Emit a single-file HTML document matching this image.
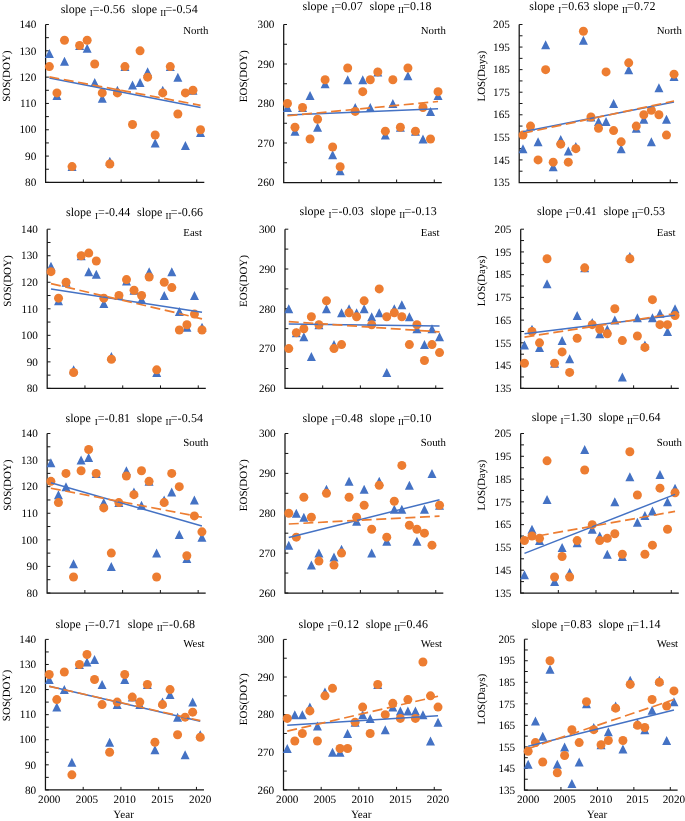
<!DOCTYPE html><html><head><meta charset="utf-8"><style>html,body{margin:0;padding:0;background:#fff;}svg{display:block;font-family:"Liberation Serif",serif;text-rendering:geometricPrecision;will-change:transform;}text{white-space:pre;}</style></head><body>
<svg width="685" height="821" viewBox="0 0 685 821">
<rect width="685" height="821" fill="#fff"/>
<g><text x="36.3" y="186.1" font-size="11.2" text-anchor="end">80</text><text x="36.3" y="159.78" font-size="11.2" text-anchor="end">90</text><text x="36.3" y="133.47" font-size="11.2" text-anchor="end">100</text><text x="36.3" y="107.15" font-size="11.2" text-anchor="end">110</text><text x="36.3" y="80.83" font-size="11.2" text-anchor="end">120</text><text x="36.3" y="54.52" font-size="11.2" text-anchor="end">130</text><text x="36.3" y="28.2" font-size="11.2" text-anchor="end">140</text><text transform="translate(10.3 76.2) rotate(-90)" font-size="11.0" text-anchor="middle">SOS(DOY)</text><text x="183.3" y="33.9" font-size="10.8">North</text><text x="60.7" y="12.9" font-size="12.0">slope</text><text x="89.66" y="16" font-size="9.0">I</text><text x="92.65" y="12.9" font-size="12.0" textLength="32.25" lengthAdjust="spacing">=-0.56</text><text x="131.7" y="12.9" font-size="12.0">slope</text><text x="160.25" y="16" font-size="9.0">II</text><text x="165.45" y="12.9" font-size="12.0" textLength="32.25" lengthAdjust="spacing">=-0.54</text><path d="M45.6 24.5V182.4H204.3" fill="none" stroke="#141414" stroke-width="1.25"/><path d="M45.6 182.4h3.3M45.6 169.24h3.3M45.6 156.08h3.3M45.6 142.93h3.3M45.6 129.77h3.3M45.6 116.61h3.3M45.6 103.45h3.3M45.6 90.29h3.3M45.6 77.13h3.3M45.6 63.98h3.3M45.6 50.82h3.3M45.6 37.66h3.3M45.6 24.5h3.3M83.39 182.4v-3M121.17 182.4v-3M158.96 182.4v-3M196.74 182.4v-3" fill="none" stroke="#141414" stroke-width="1"/><path d="M49.38 48.95L53.88 57.95L44.88 57.95ZM56.94 91.06L61.44 100.06L52.44 100.06ZM64.49 56.84L68.99 65.84L59.99 65.84ZM72.05 162.11L76.55 171.11L67.55 171.11ZM79.61 41.05L84.11 50.05L75.11 50.05ZM87.16 43.69L91.66 52.69L82.66 52.69ZM94.72 77.9L99.22 86.9L90.22 86.9ZM102.28 93.69L106.78 102.69L97.78 102.69ZM109.84 156.85L114.34 165.85L105.34 165.85ZM117.39 85.79L121.89 94.79L112.89 94.79ZM124.95 62.11L129.45 71.11L120.45 71.11ZM132.51 80.53L137.01 89.53L128.01 89.53ZM140.06 77.9L144.56 86.9L135.56 86.9ZM147.62 67.37L152.12 76.37L143.12 76.37ZM155.18 138.43L159.68 147.43L150.68 147.43ZM162.74 85.79L167.24 94.79L158.24 94.79ZM170.29 62.11L174.79 71.11L165.79 71.11ZM177.85 72.63L182.35 81.63L173.35 81.63ZM185.41 141.06L189.91 150.06L180.91 150.06ZM192.96 85.79L197.46 94.79L188.46 94.79ZM200.52 127.9L205.02 136.9L196.02 136.9Z" fill="#4472C4"/><circle cx="49.38" cy="66.61" r="4.5" fill="#ED7D31"/><circle cx="56.94" cy="92.92" r="4.5" fill="#ED7D31"/><circle cx="64.49" cy="40.29" r="4.5" fill="#ED7D31"/><circle cx="72.05" cy="166.61" r="4.5" fill="#ED7D31"/><circle cx="79.61" cy="45.55" r="4.5" fill="#ED7D31"/><circle cx="87.16" cy="40.29" r="4.5" fill="#ED7D31"/><circle cx="94.72" cy="63.98" r="4.5" fill="#ED7D31"/><circle cx="102.28" cy="92.92" r="4.5" fill="#ED7D31"/><circle cx="109.84" cy="163.98" r="4.5" fill="#ED7D31"/><circle cx="117.39" cy="92.92" r="4.5" fill="#ED7D31"/><circle cx="124.95" cy="66.61" r="4.5" fill="#ED7D31"/><circle cx="132.51" cy="124.5" r="4.5" fill="#ED7D31"/><circle cx="140.06" cy="50.82" r="4.5" fill="#ED7D31"/><circle cx="147.62" cy="77.13" r="4.5" fill="#ED7D31"/><circle cx="155.18" cy="135.03" r="4.5" fill="#ED7D31"/><circle cx="162.74" cy="92.92" r="4.5" fill="#ED7D31"/><circle cx="170.29" cy="66.61" r="4.5" fill="#ED7D31"/><circle cx="177.85" cy="113.98" r="4.5" fill="#ED7D31"/><circle cx="185.41" cy="92.92" r="4.5" fill="#ED7D31"/><circle cx="192.96" cy="90.29" r="4.5" fill="#ED7D31"/><circle cx="200.52" cy="129.77" r="4.5" fill="#ED7D31"/><line x1="49.38" y1="77.92" x2="200.52" y2="107.4" stroke="#4472C4" stroke-width="1.5"/><line x1="49.38" y1="76.87" x2="200.52" y2="105.29" stroke="#ED7D31" stroke-width="1.7" stroke-dasharray="10 4.6"/></g>
<g><text x="274.4" y="186.2" font-size="11.2" text-anchor="end">260</text><text x="274.4" y="146.7" font-size="11.2" text-anchor="end">270</text><text x="274.4" y="107.2" font-size="11.2" text-anchor="end">280</text><text x="274.4" y="67.7" font-size="11.2" text-anchor="end">290</text><text x="274.4" y="28.2" font-size="11.2" text-anchor="end">300</text><text transform="translate(247.3 76.2) rotate(-90)" font-size="11.0" text-anchor="middle">EOS(DOY)</text><text x="420.8" y="33.9" font-size="10.8">North</text><text x="302.6" y="9.9" font-size="12.0">slope</text><text x="331.46" y="13" font-size="9.0">I</text><text x="334.45" y="9.9" font-size="12.0" textLength="28.27" lengthAdjust="spacing">=0.07</text><text x="369.49" y="9.9" font-size="12.0">slope</text><text x="397.95" y="13" font-size="9.0">II</text><text x="403.13" y="9.9" font-size="12.0" textLength="28.27" lengthAdjust="spacing">=0.18</text><path d="M283.7 24.5V182.5H441.8" fill="none" stroke="#141414" stroke-width="1.25"/><path d="M283.7 182.5h3.3M283.7 162.75h3.3M283.7 143h3.3M283.7 123.25h3.3M283.7 103.5h3.3M283.7 83.75h3.3M283.7 64h3.3M283.7 44.25h3.3M283.7 24.5h3.3M321.34 182.5v-3M358.99 182.5v-3M396.63 182.5v-3M434.27 182.5v-3" fill="none" stroke="#141414" stroke-width="1"/><path d="M287.46 102.95L291.96 111.95L282.96 111.95ZM294.99 126.65L299.49 135.65L290.49 135.65ZM302.52 102.95L307.02 111.95L298.02 111.95ZM310.05 91.1L314.55 100.1L305.55 100.1ZM317.58 122.7L322.08 131.7L313.08 131.7ZM325.11 79.25L329.61 88.25L320.61 88.25ZM332.64 150.35L337.14 159.35L328.14 159.35ZM340.16 166.15L344.66 175.15L335.66 175.15ZM347.69 75.3L352.19 84.3L343.19 84.3ZM355.22 102.95L359.72 111.95L350.72 111.95ZM362.75 75.3L367.25 84.3L358.25 84.3ZM370.28 102.95L374.78 111.95L365.78 111.95ZM377.81 67.4L382.31 76.4L373.31 76.4ZM385.34 130.6L389.84 139.6L380.84 139.6ZM392.86 99L397.36 108L388.36 108ZM400.39 122.7L404.89 131.7L395.89 131.7ZM407.92 71.35L412.42 80.35L403.42 80.35ZM415.45 126.65L419.95 135.65L410.95 135.65ZM422.98 134.55L427.48 143.55L418.48 143.55ZM430.51 106.9L435.01 115.9L426.01 115.9ZM438.04 91.1L442.54 100.1L433.54 100.1Z" fill="#4472C4"/><circle cx="287.46" cy="103.5" r="4.5" fill="#ED7D31"/><circle cx="294.99" cy="127.2" r="4.5" fill="#ED7D31"/><circle cx="302.52" cy="107.45" r="4.5" fill="#ED7D31"/><circle cx="310.05" cy="139.05" r="4.5" fill="#ED7D31"/><circle cx="317.58" cy="119.3" r="4.5" fill="#ED7D31"/><circle cx="325.11" cy="79.8" r="4.5" fill="#ED7D31"/><circle cx="332.64" cy="146.95" r="4.5" fill="#ED7D31"/><circle cx="340.16" cy="166.7" r="4.5" fill="#ED7D31"/><circle cx="347.69" cy="67.95" r="4.5" fill="#ED7D31"/><circle cx="355.22" cy="111.4" r="4.5" fill="#ED7D31"/><circle cx="362.75" cy="91.65" r="4.5" fill="#ED7D31"/><circle cx="370.28" cy="79.8" r="4.5" fill="#ED7D31"/><circle cx="377.81" cy="71.9" r="4.5" fill="#ED7D31"/><circle cx="385.34" cy="131.15" r="4.5" fill="#ED7D31"/><circle cx="392.86" cy="79.8" r="4.5" fill="#ED7D31"/><circle cx="400.39" cy="127.2" r="4.5" fill="#ED7D31"/><circle cx="407.92" cy="67.95" r="4.5" fill="#ED7D31"/><circle cx="415.45" cy="131.15" r="4.5" fill="#ED7D31"/><circle cx="422.98" cy="107.45" r="4.5" fill="#ED7D31"/><circle cx="430.51" cy="139.05" r="4.5" fill="#ED7D31"/><circle cx="438.04" cy="91.65" r="4.5" fill="#ED7D31"/><line x1="287.46" y1="114.95" x2="438.04" y2="108.64" stroke="#4472C4" stroke-width="1.5"/><line x1="287.46" y1="115.75" x2="438.04" y2="101.52" stroke="#ED7D31" stroke-width="1.7" stroke-dasharray="10 4.6"/></g>
<g><text x="509.9" y="186.2" font-size="11.2" text-anchor="end">135</text><text x="509.9" y="163.63" font-size="11.2" text-anchor="end">145</text><text x="509.9" y="141.06" font-size="11.2" text-anchor="end">155</text><text x="509.9" y="118.49" font-size="11.2" text-anchor="end">165</text><text x="509.9" y="95.91" font-size="11.2" text-anchor="end">175</text><text x="509.9" y="73.34" font-size="11.2" text-anchor="end">185</text><text x="509.9" y="50.77" font-size="11.2" text-anchor="end">195</text><text x="509.9" y="28.2" font-size="11.2" text-anchor="end">205</text><text transform="translate(485.4 76.2) rotate(-90)" font-size="11.0" text-anchor="middle">LOS(Days)</text><text x="656.8" y="33.9" font-size="10.8">North</text><text x="529.3" y="10.2" font-size="12.0">slope</text><text x="558.23" y="13.3" font-size="9.0">I</text><text x="561.22" y="10.2" font-size="12.0" textLength="28.33" lengthAdjust="spacing">=0.63</text><text x="593.35" y="10.2" font-size="12.0">slope</text><text x="621.88" y="13.3" font-size="9.0">II</text><text x="627.07" y="10.2" font-size="12.0" textLength="28.33" lengthAdjust="spacing">=0.72</text><path d="M519.2 24.5V182.5H677.8" fill="none" stroke="#141414" stroke-width="1.25"/><path d="M519.2 182.5h3.3M519.2 171.21h3.3M519.2 159.93h3.3M519.2 148.64h3.3M519.2 137.36h3.3M519.2 126.07h3.3M519.2 114.79h3.3M519.2 103.5h3.3M519.2 92.21h3.3M519.2 80.93h3.3M519.2 69.64h3.3M519.2 58.36h3.3M519.2 47.07h3.3M519.2 35.79h3.3M519.2 24.5h3.3M556.96 182.5v-3M594.72 182.5v-3M632.49 182.5v-3M670.25 182.5v-3" fill="none" stroke="#141414" stroke-width="1"/><path d="M522.98 144.14L527.48 153.14L518.48 153.14ZM530.53 121.57L535.03 130.57L526.03 130.57ZM538.08 137.37L542.58 146.37L533.58 146.37ZM545.63 40.31L550.13 49.31L541.13 49.31ZM553.19 162.2L557.69 171.2L548.69 171.2ZM560.74 135.11L565.24 144.11L556.24 144.11ZM568.29 146.4L572.79 155.4L563.79 155.4ZM575.84 141.89L580.34 150.89L571.34 150.89ZM583.4 35.8L587.9 44.8L578.9 44.8ZM590.95 112.54L595.45 121.54L586.45 121.54ZM598.5 117.06L603 126.06L594 126.06ZM606.05 117.06L610.55 126.06L601.55 126.06ZM613.6 99L618.1 108L609.1 108ZM621.16 144.14L625.66 153.14L616.66 153.14ZM628.71 65.14L633.21 74.14L624.21 74.14ZM636.26 123.83L640.76 132.83L631.76 132.83ZM643.81 114.8L648.31 123.8L639.31 123.8ZM651.37 137.37L655.87 146.37L646.87 146.37ZM658.92 83.2L663.42 92.2L654.42 92.2ZM666.47 114.8L670.97 123.8L661.97 123.8ZM674.02 71.91L678.52 80.91L669.52 80.91Z" fill="#4472C4"/><circle cx="522.98" cy="135.1" r="4.5" fill="#ED7D31"/><circle cx="530.53" cy="126.07" r="4.5" fill="#ED7D31"/><circle cx="538.08" cy="159.93" r="4.5" fill="#ED7D31"/><circle cx="545.63" cy="69.64" r="4.5" fill="#ED7D31"/><circle cx="553.19" cy="162.19" r="4.5" fill="#ED7D31"/><circle cx="560.74" cy="144.13" r="4.5" fill="#ED7D31"/><circle cx="568.29" cy="162.19" r="4.5" fill="#ED7D31"/><circle cx="575.84" cy="148.64" r="4.5" fill="#ED7D31"/><circle cx="583.4" cy="31.27" r="4.5" fill="#ED7D31"/><circle cx="590.95" cy="117.04" r="4.5" fill="#ED7D31"/><circle cx="598.5" cy="128.33" r="4.5" fill="#ED7D31"/><circle cx="606.05" cy="71.9" r="4.5" fill="#ED7D31"/><circle cx="613.6" cy="130.59" r="4.5" fill="#ED7D31"/><circle cx="621.16" cy="141.87" r="4.5" fill="#ED7D31"/><circle cx="628.71" cy="62.87" r="4.5" fill="#ED7D31"/><circle cx="636.26" cy="126.07" r="4.5" fill="#ED7D31"/><circle cx="643.81" cy="114.79" r="4.5" fill="#ED7D31"/><circle cx="651.37" cy="110.27" r="4.5" fill="#ED7D31"/><circle cx="658.92" cy="114.79" r="4.5" fill="#ED7D31"/><circle cx="666.47" cy="135.1" r="4.5" fill="#ED7D31"/><circle cx="674.02" cy="74.16" r="4.5" fill="#ED7D31"/><line x1="522.98" y1="131.71" x2="674.02" y2="101.92" stroke="#4472C4" stroke-width="1.5"/><line x1="522.98" y1="133.29" x2="674.02" y2="101.02" stroke="#ED7D31" stroke-width="1.7" stroke-dasharray="10 4.6"/></g>
<g><text x="37.9" y="392.1" font-size="11.2" text-anchor="end">80</text><text x="37.9" y="365.57" font-size="11.2" text-anchor="end">90</text><text x="37.9" y="339.03" font-size="11.2" text-anchor="end">100</text><text x="37.9" y="312.5" font-size="11.2" text-anchor="end">110</text><text x="37.9" y="285.97" font-size="11.2" text-anchor="end">120</text><text x="37.9" y="259.43" font-size="11.2" text-anchor="end">130</text><text x="37.9" y="232.9" font-size="11.2" text-anchor="end">140</text><text transform="translate(11.2 281) rotate(-90)" font-size="11.0" text-anchor="middle">SOS(DOY)</text><text x="183.3" y="235.8" font-size="10.8">East</text><text x="66.1" y="215.8" font-size="12.0">slope</text><text x="95.04" y="218.9" font-size="9.0">I</text><text x="98.03" y="215.8" font-size="12.0" textLength="32.23" lengthAdjust="spacing">=-0.44</text><text x="137.04" y="215.8" font-size="12.0">slope</text><text x="165.58" y="218.9" font-size="9.0">II</text><text x="170.77" y="215.8" font-size="12.0" textLength="32.23" lengthAdjust="spacing">=-0.66</text><path d="M47.2 229.2V388.4H205.8" fill="none" stroke="#141414" stroke-width="1.25"/><path d="M47.2 388.4h3.3M47.2 375.13h3.3M47.2 361.87h3.3M47.2 348.6h3.3M47.2 335.33h3.3M47.2 322.07h3.3M47.2 308.8h3.3M47.2 295.53h3.3M47.2 282.27h3.3M47.2 269h3.3M47.2 255.73h3.3M47.2 242.47h3.3M47.2 229.2h3.3M84.96 388.4v-3M122.72 388.4v-3M160.49 388.4v-3M198.25 388.4v-3" fill="none" stroke="#141414" stroke-width="1"/><path d="M50.98 261.85L55.48 270.85L46.48 270.85ZM58.53 296.34L63.03 305.34L54.03 305.34ZM66.08 277.77L70.58 286.77L61.58 286.77ZM73.63 365.33L78.13 374.33L69.13 374.33ZM81.19 251.23L85.69 260.23L76.69 260.23ZM88.74 267.15L93.24 276.15L84.24 276.15ZM96.29 269.81L100.79 278.81L91.79 278.81ZM103.84 298.99L108.34 307.99L99.34 307.99ZM111.4 352.06L115.9 361.06L106.9 361.06ZM118.95 291.03L123.45 300.03L114.45 300.03ZM126.5 276.44L131 285.44L122 285.44ZM134.05 285.73L138.55 294.73L129.55 294.73ZM141.6 295.01L146.1 304.01L137.1 304.01ZM149.16 267.15L153.66 276.15L144.66 276.15ZM156.71 367.98L161.21 376.98L152.21 376.98ZM164.26 291.03L168.76 300.03L159.76 300.03ZM171.81 267.15L176.31 276.15L167.31 276.15ZM179.37 306.95L183.87 315.95L174.87 315.95ZM186.92 322.87L191.42 331.87L182.42 331.87ZM194.47 291.03L198.97 300.03L189.97 300.03ZM202.02 322.87L206.52 331.87L197.52 331.87Z" fill="#4472C4"/><circle cx="50.98" cy="271.65" r="4.5" fill="#ED7D31"/><circle cx="58.53" cy="298.19" r="4.5" fill="#ED7D31"/><circle cx="66.08" cy="282.27" r="4.5" fill="#ED7D31"/><circle cx="73.63" cy="372.48" r="4.5" fill="#ED7D31"/><circle cx="81.19" cy="255.73" r="4.5" fill="#ED7D31"/><circle cx="88.74" cy="253.08" r="4.5" fill="#ED7D31"/><circle cx="96.29" cy="261.04" r="4.5" fill="#ED7D31"/><circle cx="103.84" cy="298.19" r="4.5" fill="#ED7D31"/><circle cx="111.4" cy="359.21" r="4.5" fill="#ED7D31"/><circle cx="118.95" cy="295.53" r="4.5" fill="#ED7D31"/><circle cx="126.5" cy="279.61" r="4.5" fill="#ED7D31"/><circle cx="134.05" cy="290.23" r="4.5" fill="#ED7D31"/><circle cx="141.6" cy="295.53" r="4.5" fill="#ED7D31"/><circle cx="149.16" cy="276.96" r="4.5" fill="#ED7D31"/><circle cx="156.71" cy="369.83" r="4.5" fill="#ED7D31"/><circle cx="164.26" cy="282.27" r="4.5" fill="#ED7D31"/><circle cx="171.81" cy="287.57" r="4.5" fill="#ED7D31"/><circle cx="179.37" cy="330.03" r="4.5" fill="#ED7D31"/><circle cx="186.92" cy="324.72" r="4.5" fill="#ED7D31"/><circle cx="194.47" cy="314.11" r="4.5" fill="#ED7D31"/><circle cx="202.02" cy="330.03" r="4.5" fill="#ED7D31"/><line x1="50.98" y1="288.9" x2="202.02" y2="312.25" stroke="#4472C4" stroke-width="1.5"/><line x1="50.98" y1="283.59" x2="202.02" y2="318.88" stroke="#ED7D31" stroke-width="1.7" stroke-dasharray="10 4.6"/></g>
<g><text x="275.7" y="392.1" font-size="11.2" text-anchor="end">260</text><text x="275.7" y="352.3" font-size="11.2" text-anchor="end">270</text><text x="275.7" y="312.5" font-size="11.2" text-anchor="end">280</text><text x="275.7" y="272.7" font-size="11.2" text-anchor="end">290</text><text x="275.7" y="232.9" font-size="11.2" text-anchor="end">300</text><text transform="translate(247.3 281) rotate(-90)" font-size="11.0" text-anchor="middle">EOS(DOY)</text><text x="420.8" y="235.8" font-size="10.8">East</text><text x="299.5" y="214.6" font-size="12.0">slope</text><text x="328.5" y="217.7" font-size="9.0">I</text><text x="331.5" y="214.6" font-size="12.0" textLength="32.3" lengthAdjust="spacing">=-0.03</text><text x="370.6" y="214.6" font-size="12.0">slope</text><text x="399.2" y="217.7" font-size="9.0">II</text><text x="404.4" y="214.6" font-size="12.0" textLength="32.3" lengthAdjust="spacing">=-0.13</text><path d="M285 229.2V388.4H443.3" fill="none" stroke="#141414" stroke-width="1.25"/><path d="M285 388.4h3.3M285 368.5h3.3M285 348.6h3.3M285 328.7h3.3M285 308.8h3.3M285 288.9h3.3M285 269h3.3M285 249.1h3.3M285 229.2h3.3M322.69 388.4v-3M360.38 388.4v-3M398.07 388.4v-3M435.76 388.4v-3" fill="none" stroke="#141414" stroke-width="1"/><path d="M288.77 304.3L293.27 313.3L284.27 313.3ZM296.31 328.18L300.81 337.18L291.81 337.18ZM303.85 332.16L308.35 341.16L299.35 341.16ZM311.38 352.06L315.88 361.06L306.88 361.06ZM318.92 320.22L323.42 329.22L314.42 329.22ZM326.46 304.3L330.96 313.3L321.96 313.3ZM334 340.12L338.5 349.12L329.5 349.12ZM341.54 308.28L346.04 317.28L337.04 317.28ZM349.07 304.3L353.57 313.3L344.57 313.3ZM356.61 308.28L361.11 317.28L352.11 317.28ZM364.15 304.3L368.65 313.3L359.65 313.3ZM371.69 312.26L376.19 321.26L367.19 321.26ZM379.23 308.28L383.73 317.28L374.73 317.28ZM386.76 367.98L391.26 376.98L382.26 376.98ZM394.3 304.3L398.8 313.3L389.8 313.3ZM401.84 300.32L406.34 309.32L397.34 309.32ZM409.38 312.26L413.88 321.26L404.88 321.26ZM416.92 324.2L421.42 333.2L412.42 333.2ZM424.45 340.12L428.95 349.12L419.95 349.12ZM431.99 324.2L436.49 333.2L427.49 333.2ZM439.53 332.16L444.03 341.16L435.03 341.16Z" fill="#4472C4"/><circle cx="288.77" cy="348.6" r="4.5" fill="#ED7D31"/><circle cx="296.31" cy="332.68" r="4.5" fill="#ED7D31"/><circle cx="303.85" cy="328.7" r="4.5" fill="#ED7D31"/><circle cx="311.38" cy="316.76" r="4.5" fill="#ED7D31"/><circle cx="318.92" cy="324.72" r="4.5" fill="#ED7D31"/><circle cx="326.46" cy="300.84" r="4.5" fill="#ED7D31"/><circle cx="334" cy="348.6" r="4.5" fill="#ED7D31"/><circle cx="341.54" cy="344.62" r="4.5" fill="#ED7D31"/><circle cx="349.07" cy="312.78" r="4.5" fill="#ED7D31"/><circle cx="356.61" cy="316.76" r="4.5" fill="#ED7D31"/><circle cx="364.15" cy="300.84" r="4.5" fill="#ED7D31"/><circle cx="371.69" cy="324.72" r="4.5" fill="#ED7D31"/><circle cx="379.23" cy="288.9" r="4.5" fill="#ED7D31"/><circle cx="386.76" cy="316.76" r="4.5" fill="#ED7D31"/><circle cx="394.3" cy="312.78" r="4.5" fill="#ED7D31"/><circle cx="401.84" cy="316.76" r="4.5" fill="#ED7D31"/><circle cx="409.38" cy="344.62" r="4.5" fill="#ED7D31"/><circle cx="416.92" cy="324.72" r="4.5" fill="#ED7D31"/><circle cx="424.45" cy="360.54" r="4.5" fill="#ED7D31"/><circle cx="431.99" cy="344.62" r="4.5" fill="#ED7D31"/><circle cx="439.53" cy="352.58" r="4.5" fill="#ED7D31"/><line x1="288.77" y1="323.92" x2="439.53" y2="325.91" stroke="#4472C4" stroke-width="1.5"/><line x1="288.77" y1="321.54" x2="439.53" y2="331.88" stroke="#ED7D31" stroke-width="1.7" stroke-dasharray="10 4.6"/></g>
<g><text x="511.4" y="392" font-size="11.2" text-anchor="end">135</text><text x="511.4" y="369.27" font-size="11.2" text-anchor="end">145</text><text x="511.4" y="346.54" font-size="11.2" text-anchor="end">155</text><text x="511.4" y="323.81" font-size="11.2" text-anchor="end">165</text><text x="511.4" y="301.09" font-size="11.2" text-anchor="end">175</text><text x="511.4" y="278.36" font-size="11.2" text-anchor="end">185</text><text x="511.4" y="255.63" font-size="11.2" text-anchor="end">195</text><text x="511.4" y="232.9" font-size="11.2" text-anchor="end">205</text><text transform="translate(485.4 281) rotate(-90)" font-size="11.0" text-anchor="middle">LOS(Days)</text><text x="656.8" y="235.8" font-size="10.8">East</text><text x="537.1" y="215.1" font-size="12.0">slope</text><text x="565.78" y="218.2" font-size="9.0">I</text><text x="568.75" y="215.1" font-size="12.0" textLength="28.1" lengthAdjust="spacing">=0.41</text><text x="603.57" y="215.1" font-size="12.0">slope</text><text x="631.86" y="218.2" font-size="9.0">II</text><text x="637" y="215.1" font-size="12.0" textLength="28.1" lengthAdjust="spacing">=0.53</text><path d="M520.7 229.2V388.3H678.8" fill="none" stroke="#141414" stroke-width="1.25"/><path d="M520.7 388.3h3.3M520.7 376.94h3.3M520.7 365.57h3.3M520.7 354.21h3.3M520.7 342.84h3.3M520.7 331.48h3.3M520.7 320.11h3.3M520.7 308.75h3.3M520.7 297.39h3.3M520.7 286.02h3.3M520.7 274.66h3.3M520.7 263.29h3.3M520.7 251.93h3.3M520.7 240.56h3.3M520.7 229.2h3.3M558.34 388.3v-3M595.99 388.3v-3M633.63 388.3v-3M671.27 388.3v-3" fill="none" stroke="#141414" stroke-width="1"/><path d="M524.46 340.62L528.96 349.62L519.96 349.62ZM531.99 324.71L536.49 333.71L527.49 333.71ZM539.52 342.89L544.02 351.89L535.02 351.89ZM547.05 279.25L551.55 288.25L542.55 288.25ZM554.58 358.8L559.08 367.8L550.08 367.8ZM562.11 336.07L566.61 345.07L557.61 345.07ZM569.64 354.25L574.14 363.25L565.14 363.25ZM577.16 311.07L581.66 320.07L572.66 320.07ZM584.69 263.34L589.19 272.34L580.19 272.34ZM592.22 317.89L596.72 326.89L587.72 326.89ZM599.75 329.25L604.25 338.25L595.25 338.25ZM607.28 324.71L611.78 333.71L602.78 333.71ZM614.81 315.61L619.31 324.61L610.31 324.61ZM622.34 372.44L626.84 381.44L617.84 381.44ZM629.86 251.97L634.36 260.97L625.36 260.97ZM637.39 313.34L641.89 322.34L632.89 322.34ZM644.92 340.62L649.42 349.62L640.42 349.62ZM652.45 313.34L656.95 322.34L647.95 322.34ZM659.98 308.8L664.48 317.8L655.48 317.8ZM667.51 326.98L672.01 335.98L663.01 335.98ZM675.04 304.25L679.54 313.25L670.54 313.25Z" fill="#4472C4"/><circle cx="524.46" cy="363.3" r="4.5" fill="#ED7D31"/><circle cx="531.99" cy="331.48" r="4.5" fill="#ED7D31"/><circle cx="539.52" cy="342.84" r="4.5" fill="#ED7D31"/><circle cx="547.05" cy="258.75" r="4.5" fill="#ED7D31"/><circle cx="554.58" cy="363.3" r="4.5" fill="#ED7D31"/><circle cx="562.11" cy="351.93" r="4.5" fill="#ED7D31"/><circle cx="569.64" cy="372.39" r="4.5" fill="#ED7D31"/><circle cx="577.16" cy="338.3" r="4.5" fill="#ED7D31"/><circle cx="584.69" cy="267.84" r="4.5" fill="#ED7D31"/><circle cx="592.22" cy="324.66" r="4.5" fill="#ED7D31"/><circle cx="599.75" cy="329.21" r="4.5" fill="#ED7D31"/><circle cx="607.28" cy="333.75" r="4.5" fill="#ED7D31"/><circle cx="614.81" cy="308.75" r="4.5" fill="#ED7D31"/><circle cx="622.34" cy="340.57" r="4.5" fill="#ED7D31"/><circle cx="629.86" cy="258.75" r="4.5" fill="#ED7D31"/><circle cx="637.39" cy="336.02" r="4.5" fill="#ED7D31"/><circle cx="644.92" cy="347.39" r="4.5" fill="#ED7D31"/><circle cx="652.45" cy="299.66" r="4.5" fill="#ED7D31"/><circle cx="659.98" cy="324.66" r="4.5" fill="#ED7D31"/><circle cx="667.51" cy="324.66" r="4.5" fill="#ED7D31"/><circle cx="675.04" cy="315.57" r="4.5" fill="#ED7D31"/><line x1="524.46" y1="333.75" x2="675.04" y2="315.34" stroke="#4472C4" stroke-width="1.5"/><line x1="524.46" y1="337.16" x2="675.04" y2="313.52" stroke="#ED7D31" stroke-width="1.7" stroke-dasharray="10 4.6"/></g>
<g><text x="37.8" y="596.7" font-size="11.2" text-anchor="end">80</text><text x="37.8" y="570.12" font-size="11.2" text-anchor="end">90</text><text x="37.8" y="543.53" font-size="11.2" text-anchor="end">100</text><text x="37.8" y="516.95" font-size="11.2" text-anchor="end">110</text><text x="37.8" y="490.37" font-size="11.2" text-anchor="end">120</text><text x="37.8" y="463.78" font-size="11.2" text-anchor="end">130</text><text x="37.8" y="437.2" font-size="11.2" text-anchor="end">140</text><text transform="translate(11.2 485.2) rotate(-90)" font-size="11.0" text-anchor="middle">SOS(DOY)</text><text x="183.3" y="445.7" font-size="10.8">South</text><text x="65.6" y="422.1" font-size="12.0">slope</text><text x="94.64" y="425.2" font-size="9.0">I</text><text x="97.65" y="422.1" font-size="12.0" textLength="32.35" lengthAdjust="spacing">=-0.81</text><text x="136.8" y="422.1" font-size="12.0">slope</text><text x="165.45" y="425.2" font-size="9.0">II</text><text x="170.65" y="422.1" font-size="12.0" textLength="32.35" lengthAdjust="spacing">=-0.54</text><path d="M47.1 433.5V593H205.7" fill="none" stroke="#141414" stroke-width="1.25"/><path d="M47.1 593h3.3M47.1 579.71h3.3M47.1 566.42h3.3M47.1 553.12h3.3M47.1 539.83h3.3M47.1 526.54h3.3M47.1 513.25h3.3M47.1 499.96h3.3M47.1 486.67h3.3M47.1 473.38h3.3M47.1 460.08h3.3M47.1 446.79h3.3M47.1 433.5h3.3M84.86 593v-3M122.62 593v-3M160.39 593v-3M198.15 593v-3" fill="none" stroke="#141414" stroke-width="1"/><path d="M50.88 458.24L55.38 467.24L46.38 467.24ZM58.43 490.14L62.93 499.14L53.93 499.14ZM65.98 482.17L70.48 491.17L61.48 491.17ZM73.53 559.26L78.03 568.26L69.03 568.26ZM81.09 455.58L85.59 464.58L76.59 464.58ZM88.64 452.93L93.14 461.93L84.14 461.93ZM96.19 468.88L100.69 477.88L91.69 477.88ZM103.74 498.12L108.24 507.12L99.24 507.12ZM111.3 561.92L115.8 570.92L106.8 570.92ZM118.85 498.12L123.35 507.12L114.35 507.12ZM126.4 466.22L130.9 475.22L121.9 475.22ZM133.95 487.48L138.45 496.48L129.45 496.48ZM141.5 500.77L146 509.77L137 509.77ZM149.06 476.85L153.56 485.85L144.56 485.85ZM156.61 548.62L161.11 557.62L152.11 557.62ZM164.16 495.46L168.66 504.46L159.66 504.46ZM171.71 487.48L176.21 496.48L167.21 496.48ZM179.27 530.02L183.77 539.02L174.77 539.02ZM186.82 553.94L191.32 562.94L182.32 562.94ZM194.37 495.46L198.87 504.46L189.87 504.46ZM201.92 532.67L206.42 541.67L197.42 541.67Z" fill="#4472C4"/><circle cx="50.88" cy="481.35" r="4.5" fill="#ED7D31"/><circle cx="58.43" cy="502.62" r="4.5" fill="#ED7D31"/><circle cx="65.98" cy="473.38" r="4.5" fill="#ED7D31"/><circle cx="73.53" cy="577.05" r="4.5" fill="#ED7D31"/><circle cx="81.09" cy="470.72" r="4.5" fill="#ED7D31"/><circle cx="88.64" cy="449.45" r="4.5" fill="#ED7D31"/><circle cx="96.19" cy="473.38" r="4.5" fill="#ED7D31"/><circle cx="103.74" cy="507.93" r="4.5" fill="#ED7D31"/><circle cx="111.3" cy="553.12" r="4.5" fill="#ED7D31"/><circle cx="118.85" cy="502.62" r="4.5" fill="#ED7D31"/><circle cx="126.4" cy="476.03" r="4.5" fill="#ED7D31"/><circle cx="133.95" cy="494.64" r="4.5" fill="#ED7D31"/><circle cx="141.5" cy="470.72" r="4.5" fill="#ED7D31"/><circle cx="149.06" cy="481.35" r="4.5" fill="#ED7D31"/><circle cx="156.61" cy="577.05" r="4.5" fill="#ED7D31"/><circle cx="164.16" cy="502.62" r="4.5" fill="#ED7D31"/><circle cx="171.71" cy="473.38" r="4.5" fill="#ED7D31"/><circle cx="179.27" cy="486.67" r="4.5" fill="#ED7D31"/><circle cx="186.82" cy="555.78" r="4.5" fill="#ED7D31"/><circle cx="194.37" cy="515.91" r="4.5" fill="#ED7D31"/><circle cx="201.92" cy="531.86" r="4.5" fill="#ED7D31"/><line x1="50.88" y1="482.68" x2="201.92" y2="526.01" stroke="#4472C4" stroke-width="1.5"/><line x1="50.88" y1="488.26" x2="201.92" y2="517.24" stroke="#ED7D31" stroke-width="1.7" stroke-dasharray="10 4.6"/></g>
<g><text x="275.7" y="596.7" font-size="11.2" text-anchor="end">260</text><text x="275.7" y="556.83" font-size="11.2" text-anchor="end">270</text><text x="275.7" y="516.95" font-size="11.2" text-anchor="end">280</text><text x="275.7" y="477.07" font-size="11.2" text-anchor="end">290</text><text x="275.7" y="437.2" font-size="11.2" text-anchor="end">300</text><text transform="translate(247.3 485.2) rotate(-90)" font-size="11.0" text-anchor="middle">EOS(DOY)</text><text x="420.8" y="445.7" font-size="10.8">South</text><text x="302.6" y="422.1" font-size="12.0">slope</text><text x="331.46" y="425.2" font-size="9.0">I</text><text x="334.45" y="422.1" font-size="12.0" textLength="28.27" lengthAdjust="spacing">=0.48</text><text x="369.49" y="422.1" font-size="12.0">slope</text><text x="397.95" y="425.2" font-size="9.0">II</text><text x="403.13" y="422.1" font-size="12.0" textLength="28.27" lengthAdjust="spacing">=0.10</text><path d="M285 433.5V593H443.3" fill="none" stroke="#141414" stroke-width="1.25"/><path d="M285 593h3.3M285 573.06h3.3M285 553.12h3.3M285 533.19h3.3M285 513.25h3.3M285 493.31h3.3M285 473.38h3.3M285 453.44h3.3M285 433.5h3.3M322.69 593v-3M360.38 593v-3M398.07 593v-3M435.76 593v-3" fill="none" stroke="#141414" stroke-width="1"/><path d="M288.77 540.65L293.27 549.65L284.27 549.65ZM296.31 508.75L300.81 517.75L291.81 517.75ZM303.85 512.74L308.35 521.74L299.35 521.74ZM311.38 560.59L315.88 569.59L306.88 569.59ZM318.92 548.62L323.42 557.62L314.42 557.62ZM326.46 484.82L330.96 493.82L321.96 493.82ZM334 552.61L338.5 561.61L329.5 561.61ZM341.54 544.64L346.04 553.64L337.04 553.64ZM349.07 476.85L353.57 485.85L344.57 485.85ZM356.61 516.73L361.11 525.73L352.11 525.73ZM364.15 484.82L368.65 493.82L359.65 493.82ZM371.69 548.62L376.19 557.62L367.19 557.62ZM379.23 476.85L383.73 485.85L374.73 485.85ZM386.76 536.66L391.26 545.66L382.26 545.66ZM394.3 504.76L398.8 513.76L389.8 513.76ZM401.84 504.76L406.34 513.76L397.34 513.76ZM409.38 480.84L413.88 489.84L404.88 489.84ZM416.92 536.66L421.42 545.66L412.42 545.66ZM424.45 504.76L428.95 513.76L419.95 513.76ZM431.99 468.88L436.49 477.88L427.49 477.88ZM439.53 500.77L444.03 509.77L435.03 509.77Z" fill="#4472C4"/><circle cx="288.77" cy="513.25" r="4.5" fill="#ED7D31"/><circle cx="296.31" cy="537.17" r="4.5" fill="#ED7D31"/><circle cx="303.85" cy="497.3" r="4.5" fill="#ED7D31"/><circle cx="311.38" cy="517.24" r="4.5" fill="#ED7D31"/><circle cx="318.92" cy="561.1" r="4.5" fill="#ED7D31"/><circle cx="326.46" cy="493.31" r="4.5" fill="#ED7D31"/><circle cx="334" cy="565.09" r="4.5" fill="#ED7D31"/><circle cx="341.54" cy="553.12" r="4.5" fill="#ED7D31"/><circle cx="349.07" cy="497.3" r="4.5" fill="#ED7D31"/><circle cx="356.61" cy="517.24" r="4.5" fill="#ED7D31"/><circle cx="364.15" cy="505.27" r="4.5" fill="#ED7D31"/><circle cx="371.69" cy="529.2" r="4.5" fill="#ED7D31"/><circle cx="379.23" cy="485.34" r="4.5" fill="#ED7D31"/><circle cx="386.76" cy="537.17" r="4.5" fill="#ED7D31"/><circle cx="394.3" cy="501.29" r="4.5" fill="#ED7D31"/><circle cx="401.84" cy="465.4" r="4.5" fill="#ED7D31"/><circle cx="409.38" cy="525.21" r="4.5" fill="#ED7D31"/><circle cx="416.92" cy="529.2" r="4.5" fill="#ED7D31"/><circle cx="424.45" cy="533.19" r="4.5" fill="#ED7D31"/><circle cx="431.99" cy="545.15" r="4.5" fill="#ED7D31"/><circle cx="439.53" cy="505.27" r="4.5" fill="#ED7D31"/><line x1="288.77" y1="537.57" x2="439.53" y2="499.69" stroke="#4472C4" stroke-width="1.5"/><line x1="288.77" y1="524.02" x2="439.53" y2="516.04" stroke="#ED7D31" stroke-width="1.7" stroke-dasharray="10 4.6"/></g>
<g><text x="511.4" y="596.7" font-size="11.2" text-anchor="end">135</text><text x="511.4" y="573.91" font-size="11.2" text-anchor="end">145</text><text x="511.4" y="551.13" font-size="11.2" text-anchor="end">155</text><text x="511.4" y="528.34" font-size="11.2" text-anchor="end">165</text><text x="511.4" y="505.56" font-size="11.2" text-anchor="end">175</text><text x="511.4" y="482.77" font-size="11.2" text-anchor="end">185</text><text x="511.4" y="459.99" font-size="11.2" text-anchor="end">195</text><text x="511.4" y="437.2" font-size="11.2" text-anchor="end">205</text><text transform="translate(485.4 485.2) rotate(-90)" font-size="11.0" text-anchor="middle">LOS(Days)</text><text x="656.8" y="445.7" font-size="10.8">South</text><text x="531.7" y="420.7" font-size="12.0">slope</text><text x="560.56" y="423.8" font-size="9.0">I</text><text x="563.55" y="420.7" font-size="12.0" textLength="28.27" lengthAdjust="spacing">=1.30</text><text x="598.59" y="420.7" font-size="12.0">slope</text><text x="627.05" y="423.8" font-size="9.0">II</text><text x="632.23" y="420.7" font-size="12.0" textLength="28.27" lengthAdjust="spacing">=0.64</text><path d="M520.7 433.5V593H678.8" fill="none" stroke="#141414" stroke-width="1.25"/><path d="M520.7 593h3.3M520.7 581.61h3.3M520.7 570.21h3.3M520.7 558.82h3.3M520.7 547.43h3.3M520.7 536.04h3.3M520.7 524.64h3.3M520.7 513.25h3.3M520.7 501.86h3.3M520.7 490.46h3.3M520.7 479.07h3.3M520.7 467.68h3.3M520.7 456.29h3.3M520.7 444.89h3.3M520.7 433.5h3.3M558.34 593v-3M595.99 593v-3M633.63 593v-3M671.27 593v-3" fill="none" stroke="#141414" stroke-width="1"/><path d="M524.46 570.27L528.96 579.27L519.96 579.27ZM531.99 524.7L536.49 533.7L527.49 533.7ZM539.52 536.09L544.02 545.09L535.02 545.09ZM547.05 495.08L551.55 504.08L542.55 504.08ZM554.58 577.11L559.08 586.11L550.08 586.11ZM562.11 542.93L566.61 551.93L557.61 551.93ZM569.64 567.99L574.14 576.99L565.14 576.99ZM577.16 538.37L581.66 547.37L572.66 547.37ZM584.69 444.95L589.19 453.95L580.19 453.95ZM592.22 524.7L596.72 533.7L587.72 533.7ZM599.75 531.54L604.25 540.54L595.25 540.54ZM607.28 549.76L611.78 558.76L602.78 558.76ZM614.81 497.36L619.31 506.36L610.31 506.36ZM622.34 552.04L626.84 561.04L617.84 561.04ZM629.86 472.29L634.36 481.29L625.36 481.29ZM637.39 517.86L641.89 526.86L632.89 526.86ZM644.92 511.03L649.42 520.03L640.42 520.03ZM652.45 506.47L656.95 515.47L647.95 515.47ZM659.98 470.01L664.48 479.01L655.48 479.01ZM667.51 497.36L672.01 506.36L663.01 506.36ZM675.04 483.69L679.54 492.69L670.54 492.69Z" fill="#4472C4"/><circle cx="524.46" cy="540.59" r="4.5" fill="#ED7D31"/><circle cx="531.99" cy="536.04" r="4.5" fill="#ED7D31"/><circle cx="539.52" cy="538.31" r="4.5" fill="#ED7D31"/><circle cx="547.05" cy="460.84" r="4.5" fill="#ED7D31"/><circle cx="554.58" cy="577.05" r="4.5" fill="#ED7D31"/><circle cx="562.11" cy="556.54" r="4.5" fill="#ED7D31"/><circle cx="569.64" cy="577.05" r="4.5" fill="#ED7D31"/><circle cx="577.16" cy="540.59" r="4.5" fill="#ED7D31"/><circle cx="584.69" cy="469.96" r="4.5" fill="#ED7D31"/><circle cx="592.22" cy="524.64" r="4.5" fill="#ED7D31"/><circle cx="599.75" cy="540.59" r="4.5" fill="#ED7D31"/><circle cx="607.28" cy="538.31" r="4.5" fill="#ED7D31"/><circle cx="614.81" cy="533.76" r="4.5" fill="#ED7D31"/><circle cx="622.34" cy="554.26" r="4.5" fill="#ED7D31"/><circle cx="629.86" cy="451.73" r="4.5" fill="#ED7D31"/><circle cx="637.39" cy="495.02" r="4.5" fill="#ED7D31"/><circle cx="644.92" cy="554.26" r="4.5" fill="#ED7D31"/><circle cx="652.45" cy="545.15" r="4.5" fill="#ED7D31"/><circle cx="659.98" cy="488.19" r="4.5" fill="#ED7D31"/><circle cx="667.51" cy="529.2" r="4.5" fill="#ED7D31"/><circle cx="675.04" cy="492.74" r="4.5" fill="#ED7D31"/><line x1="524.46" y1="553.35" x2="675.04" y2="494.34" stroke="#4472C4" stroke-width="1.5"/><line x1="524.46" y1="538.31" x2="675.04" y2="511.43" stroke="#ED7D31" stroke-width="1.7" stroke-dasharray="10 4.6"/></g>
<g><text x="36.15" y="793.6" font-size="11.2" text-anchor="end">80</text><text x="36.15" y="768.52" font-size="11.2" text-anchor="end">90</text><text x="36.15" y="743.43" font-size="11.2" text-anchor="end">100</text><text x="36.15" y="718.35" font-size="11.2" text-anchor="end">110</text><text x="36.15" y="693.27" font-size="11.2" text-anchor="end">120</text><text x="36.15" y="668.18" font-size="11.2" text-anchor="end">130</text><text x="36.15" y="643.1" font-size="11.2" text-anchor="end">140</text><text transform="translate(9.5 695.5) rotate(-90)" font-size="11.0" text-anchor="middle">SOS(DOY)</text><text x="183.3" y="647" font-size="10.8">West</text><text x="55.5" y="628.2" font-size="12.0">slope</text><text x="84.97" y="631.3" font-size="9.0">I</text><text x="88.02" y="628.2" font-size="12.0" textLength="32.81" lengthAdjust="spacing">=-0.71</text><text x="127.74" y="628.2" font-size="12.0">slope</text><text x="156.8" y="631.3" font-size="9.0">II</text><text x="162.09" y="628.2" font-size="12.0" textLength="32.81" lengthAdjust="spacing">=-0.68</text><path d="M45.45 639.4V789.9H204" fill="none" stroke="#141414" stroke-width="1.25"/><path d="M45.45 789.9h3.3M45.45 777.36h3.3M45.45 764.82h3.3M45.45 752.27h3.3M45.45 739.73h3.3M45.45 727.19h3.3M45.45 714.65h3.3M45.45 702.11h3.3M45.45 689.57h3.3M45.45 677.02h3.3M45.45 664.48h3.3M45.45 651.94h3.3M45.45 639.4h3.3M83.2 789.9v-3M120.95 789.9v-3M158.7 789.9v-3M196.45 789.9v-3" fill="none" stroke="#141414" stroke-width="1"/><path d="M49.23 675.03L53.73 684.03L44.73 684.03ZM56.78 702.62L61.28 711.62L52.28 711.62ZM64.33 685.07L68.83 694.07L59.83 694.07ZM71.88 757.81L76.38 766.81L67.38 766.81ZM79.43 659.98L83.93 668.98L74.93 668.98ZM86.98 657.48L91.48 666.48L82.48 666.48ZM94.53 654.97L99.03 663.97L90.03 663.97ZM102.08 680.05L106.58 689.05L97.58 689.05ZM109.63 737.74L114.13 746.74L105.13 746.74ZM117.18 700.12L121.68 709.12L112.68 709.12ZM124.73 675.03L129.23 684.03L120.23 684.03ZM132.28 692.59L136.78 701.59L127.78 701.59ZM139.83 700.12L144.33 709.12L135.33 709.12ZM147.38 680.05L151.88 689.05L142.88 689.05ZM154.93 745.27L159.43 754.27L150.43 754.27ZM162.48 697.61L166.98 706.61L157.98 706.61ZM170.03 690.08L174.53 699.08L165.53 699.08ZM177.57 712.66L182.07 721.66L173.07 721.66ZM185.12 750.28L189.62 759.28L180.62 759.28ZM192.68 697.61L197.18 706.61L188.18 706.61ZM200.23 730.22L204.73 739.22L195.73 739.22Z" fill="#4472C4"/><circle cx="49.23" cy="674.52" r="4.5" fill="#ED7D31"/><circle cx="56.78" cy="699.6" r="4.5" fill="#ED7D31"/><circle cx="64.33" cy="672.01" r="4.5" fill="#ED7D31"/><circle cx="71.88" cy="774.85" r="4.5" fill="#ED7D31"/><circle cx="79.43" cy="664.48" r="4.5" fill="#ED7D31"/><circle cx="86.98" cy="654.45" r="4.5" fill="#ED7D31"/><circle cx="94.53" cy="679.53" r="4.5" fill="#ED7D31"/><circle cx="102.08" cy="704.62" r="4.5" fill="#ED7D31"/><circle cx="109.63" cy="752.27" r="4.5" fill="#ED7D31"/><circle cx="117.18" cy="702.11" r="4.5" fill="#ED7D31"/><circle cx="124.73" cy="674.52" r="4.5" fill="#ED7D31"/><circle cx="132.28" cy="697.09" r="4.5" fill="#ED7D31"/><circle cx="139.83" cy="702.11" r="4.5" fill="#ED7D31"/><circle cx="147.38" cy="684.55" r="4.5" fill="#ED7D31"/><circle cx="154.93" cy="742.24" r="4.5" fill="#ED7D31"/><circle cx="162.48" cy="704.62" r="4.5" fill="#ED7D31"/><circle cx="170.03" cy="689.57" r="4.5" fill="#ED7D31"/><circle cx="177.57" cy="734.72" r="4.5" fill="#ED7D31"/><circle cx="185.12" cy="717.16" r="4.5" fill="#ED7D31"/><circle cx="192.68" cy="712.14" r="4.5" fill="#ED7D31"/><circle cx="200.23" cy="737.23" r="4.5" fill="#ED7D31"/><line x1="49.23" y1="686.31" x2="200.23" y2="721.17" stroke="#4472C4" stroke-width="1.5"/><line x1="49.23" y1="686.31" x2="200.23" y2="720.67" stroke="#ED7D31" stroke-width="1.7" stroke-dasharray="10 4.6"/><text x="49.23" y="802.8" font-size="11.2" text-anchor="middle">2000</text><text x="86.98" y="802.8" font-size="11.2" text-anchor="middle">2005</text><text x="124.73" y="802.8" font-size="11.2" text-anchor="middle">2010</text><text x="162.48" y="802.8" font-size="11.2" text-anchor="middle">2015</text><text x="200.23" y="802.8" font-size="11.2" text-anchor="middle">2020</text><text x="123.6" y="817.6" font-size="11.2" text-anchor="middle">Year</text></g>
<g><text x="274.2" y="793.6" font-size="11.2" text-anchor="end">260</text><text x="274.2" y="755.98" font-size="11.2" text-anchor="end">270</text><text x="274.2" y="718.35" font-size="11.2" text-anchor="end">280</text><text x="274.2" y="680.73" font-size="11.2" text-anchor="end">290</text><text x="274.2" y="643.1" font-size="11.2" text-anchor="end">300</text><text transform="translate(247.3 699.2) rotate(-90)" font-size="11.0" text-anchor="middle">EOS(DOY)</text><text x="420.8" y="647" font-size="10.8">West</text><text x="298.6" y="627.7" font-size="12.0">slope</text><text x="327.58" y="630.8" font-size="9.0">I</text><text x="330.58" y="627.7" font-size="12.0" textLength="28.38" lengthAdjust="spacing">=0.12</text><text x="365.75" y="627.7" font-size="12.0">slope</text><text x="394.33" y="630.8" font-size="9.0">II</text><text x="399.52" y="627.7" font-size="12.0" textLength="28.38" lengthAdjust="spacing">=0.46</text><path d="M283.5 639.4V789.9H441.8" fill="none" stroke="#141414" stroke-width="1.25"/><path d="M283.5 789.9h3.3M283.5 771.09h3.3M283.5 752.27h3.3M283.5 733.46h3.3M283.5 714.65h3.3M283.5 695.84h3.3M283.5 677.02h3.3M283.5 658.21h3.3M283.5 639.4h3.3M321.19 789.9v-3M358.88 789.9v-3M396.57 789.9v-3M434.26 789.9v-3" fill="none" stroke="#141414" stroke-width="1"/><path d="M287.27 744.01L291.77 753.01L282.77 753.01ZM294.81 710.15L299.31 719.15L290.31 719.15ZM302.35 710.15L306.85 719.15L297.85 719.15ZM309.88 702.62L314.38 711.62L305.38 711.62ZM317.42 721.44L321.92 730.44L312.92 730.44ZM324.96 687.57L329.46 696.57L320.46 696.57ZM332.5 747.77L337 756.77L328 756.77ZM340.04 747.77L344.54 756.77L335.54 756.77ZM347.57 728.96L352.07 737.96L343.07 737.96ZM355.11 717.67L359.61 726.67L350.61 726.67ZM362.65 710.15L367.15 719.15L358.15 719.15ZM370.19 713.91L374.69 722.91L365.69 722.91ZM377.73 680.05L382.23 689.05L373.23 689.05ZM385.26 725.2L389.76 734.2L380.76 734.2ZM392.8 702.62L397.3 711.62L388.3 711.62ZM400.34 706.39L404.84 715.39L395.84 715.39ZM407.88 706.39L412.38 715.39L403.38 715.39ZM415.42 706.39L419.92 715.39L410.92 715.39ZM422.95 710.15L427.45 719.15L418.45 719.15ZM430.49 736.49L434.99 745.49L425.99 745.49ZM438.03 717.67L442.53 726.67L433.53 726.67Z" fill="#4472C4"/><circle cx="287.27" cy="718.41" r="4.5" fill="#ED7D31"/><circle cx="294.81" cy="740.99" r="4.5" fill="#ED7D31"/><circle cx="302.35" cy="733.46" r="4.5" fill="#ED7D31"/><circle cx="309.88" cy="710.89" r="4.5" fill="#ED7D31"/><circle cx="317.42" cy="740.99" r="4.5" fill="#ED7D31"/><circle cx="324.96" cy="695.84" r="4.5" fill="#ED7D31"/><circle cx="332.5" cy="688.31" r="4.5" fill="#ED7D31"/><circle cx="340.04" cy="748.51" r="4.5" fill="#ED7D31"/><circle cx="347.57" cy="748.51" r="4.5" fill="#ED7D31"/><circle cx="355.11" cy="722.17" r="4.5" fill="#ED7D31"/><circle cx="362.65" cy="707.12" r="4.5" fill="#ED7D31"/><circle cx="370.19" cy="733.46" r="4.5" fill="#ED7D31"/><circle cx="377.73" cy="684.55" r="4.5" fill="#ED7D31"/><circle cx="385.26" cy="714.65" r="4.5" fill="#ED7D31"/><circle cx="392.8" cy="703.36" r="4.5" fill="#ED7D31"/><circle cx="400.34" cy="718.41" r="4.5" fill="#ED7D31"/><circle cx="407.88" cy="699.6" r="4.5" fill="#ED7D31"/><circle cx="415.42" cy="718.41" r="4.5" fill="#ED7D31"/><circle cx="422.95" cy="661.98" r="4.5" fill="#ED7D31"/><circle cx="430.49" cy="695.84" r="4.5" fill="#ED7D31"/><circle cx="438.03" cy="707.12" r="4.5" fill="#ED7D31"/><line x1="287.27" y1="725.19" x2="438.03" y2="715.78" stroke="#4472C4" stroke-width="1.5"/><line x1="287.27" y1="731.2" x2="438.03" y2="696.21" stroke="#ED7D31" stroke-width="1.7" stroke-dasharray="10 4.6"/><text x="287.27" y="802.8" font-size="11.2" text-anchor="middle">2000</text><text x="324.96" y="802.8" font-size="11.2" text-anchor="middle">2005</text><text x="362.65" y="802.8" font-size="11.2" text-anchor="middle">2010</text><text x="400.34" y="802.8" font-size="11.2" text-anchor="middle">2015</text><text x="438.03" y="802.8" font-size="11.2" text-anchor="middle">2020</text><text x="361.2" y="817.6" font-size="11.2" text-anchor="middle">Year</text></g>
<g><text x="515.2" y="793.7" font-size="11.2" text-anchor="end">135</text><text x="515.2" y="772.16" font-size="11.2" text-anchor="end">145</text><text x="515.2" y="750.61" font-size="11.2" text-anchor="end">155</text><text x="515.2" y="729.07" font-size="11.2" text-anchor="end">165</text><text x="515.2" y="707.53" font-size="11.2" text-anchor="end">175</text><text x="515.2" y="685.99" font-size="11.2" text-anchor="end">185</text><text x="515.2" y="664.44" font-size="11.2" text-anchor="end">195</text><text x="515.2" y="642.9" font-size="11.2" text-anchor="end">205</text><text transform="translate(485.4 699.2) rotate(-90)" font-size="11.0" text-anchor="middle">LOS(Days)</text><text x="656.8" y="647" font-size="10.8">West</text><text x="531.7" y="627.9" font-size="12.0">slope</text><text x="560.56" y="631" font-size="9.0">I</text><text x="563.55" y="627.9" font-size="12.0" textLength="28.27" lengthAdjust="spacing">=0.83</text><text x="598.59" y="627.9" font-size="12.0">slope</text><text x="627.05" y="631" font-size="9.0">II</text><text x="632.23" y="627.9" font-size="12.0" textLength="28.27" lengthAdjust="spacing">=1.14</text><path d="M524.5 639.2V790H677.6" fill="none" stroke="#141414" stroke-width="1.25"/><path d="M524.5 790h3.3M524.5 779.23h3.3M524.5 768.46h3.3M524.5 757.69h3.3M524.5 746.91h3.3M524.5 736.14h3.3M524.5 725.37h3.3M524.5 714.6h3.3M524.5 703.83h3.3M524.5 693.06h3.3M524.5 682.29h3.3M524.5 671.51h3.3M524.5 660.74h3.3M524.5 649.97h3.3M524.5 639.2h3.3M560.95 790v-3M597.4 790v-3M633.86 790v-3M670.31 790v-3" fill="none" stroke="#141414" stroke-width="1"/><path d="M528.15 759.65L532.65 768.65L523.65 768.65ZM535.44 716.56L539.94 725.56L530.94 725.56ZM542.73 731.64L547.23 740.64L538.23 740.64ZM550.02 664.86L554.52 673.86L545.52 673.86ZM557.31 759.65L561.81 768.65L552.81 768.65ZM564.6 742.41L569.1 751.41L560.1 751.41ZM571.89 779.04L576.39 788.04L567.39 788.04ZM579.18 757.49L583.68 766.49L574.68 766.49ZM586.47 699.33L590.97 708.33L581.97 708.33ZM593.76 723.03L598.26 732.03L589.26 732.03ZM601.05 740.26L605.55 749.26L596.55 749.26ZM608.34 727.33L612.84 736.33L603.84 736.33ZM615.63 701.48L620.13 710.48L611.13 710.48ZM622.92 744.57L627.42 753.57L618.42 753.57ZM630.21 675.63L634.71 684.63L625.71 684.63ZM637.5 718.72L642 727.72L633 727.72ZM644.79 725.18L649.29 734.18L640.29 734.18ZM652.08 705.79L656.58 714.79L647.58 714.79ZM659.37 675.63L663.87 684.63L654.87 684.63ZM666.66 735.95L671.16 744.95L662.16 744.95ZM673.95 697.17L678.45 706.17L669.45 706.17Z" fill="#4472C4"/><circle cx="528.15" cy="751.22" r="4.5" fill="#ED7D31"/><circle cx="535.44" cy="742.61" r="4.5" fill="#ED7D31"/><circle cx="542.73" cy="761.99" r="4.5" fill="#ED7D31"/><circle cx="550.02" cy="660.74" r="4.5" fill="#ED7D31"/><circle cx="557.31" cy="772.77" r="4.5" fill="#ED7D31"/><circle cx="564.6" cy="755.53" r="4.5" fill="#ED7D31"/><circle cx="571.89" cy="729.68" r="4.5" fill="#ED7D31"/><circle cx="579.18" cy="742.61" r="4.5" fill="#ED7D31"/><circle cx="586.47" cy="701.67" r="4.5" fill="#ED7D31"/><circle cx="593.76" cy="729.68" r="4.5" fill="#ED7D31"/><circle cx="601.05" cy="744.76" r="4.5" fill="#ED7D31"/><circle cx="608.34" cy="740.45" r="4.5" fill="#ED7D31"/><circle cx="615.63" cy="708.14" r="4.5" fill="#ED7D31"/><circle cx="622.92" cy="740.45" r="4.5" fill="#ED7D31"/><circle cx="630.21" cy="684.44" r="4.5" fill="#ED7D31"/><circle cx="637.5" cy="725.37" r="4.5" fill="#ED7D31"/><circle cx="644.79" cy="727.53" r="4.5" fill="#ED7D31"/><circle cx="652.08" cy="699.52" r="4.5" fill="#ED7D31"/><circle cx="659.37" cy="682.29" r="4.5" fill="#ED7D31"/><circle cx="666.66" cy="705.98" r="4.5" fill="#ED7D31"/><circle cx="673.95" cy="690.9" r="4.5" fill="#ED7D31"/><line x1="528.15" y1="746.27" x2="673.95" y2="710.08" stroke="#4472C4" stroke-width="1.5"/><line x1="528.15" y1="748.64" x2="673.95" y2="699.52" stroke="#ED7D31" stroke-width="1.7" stroke-dasharray="10 4.6"/><text x="528.15" y="802.8" font-size="11.2" text-anchor="middle">2000</text><text x="564.6" y="802.8" font-size="11.2" text-anchor="middle">2005</text><text x="601.05" y="802.8" font-size="11.2" text-anchor="middle">2010</text><text x="637.5" y="802.8" font-size="11.2" text-anchor="middle">2015</text><text x="673.95" y="802.8" font-size="11.2" text-anchor="middle">2020</text><text x="597" y="817.6" font-size="11.2" text-anchor="middle">Year</text></g>
</svg></body></html>
